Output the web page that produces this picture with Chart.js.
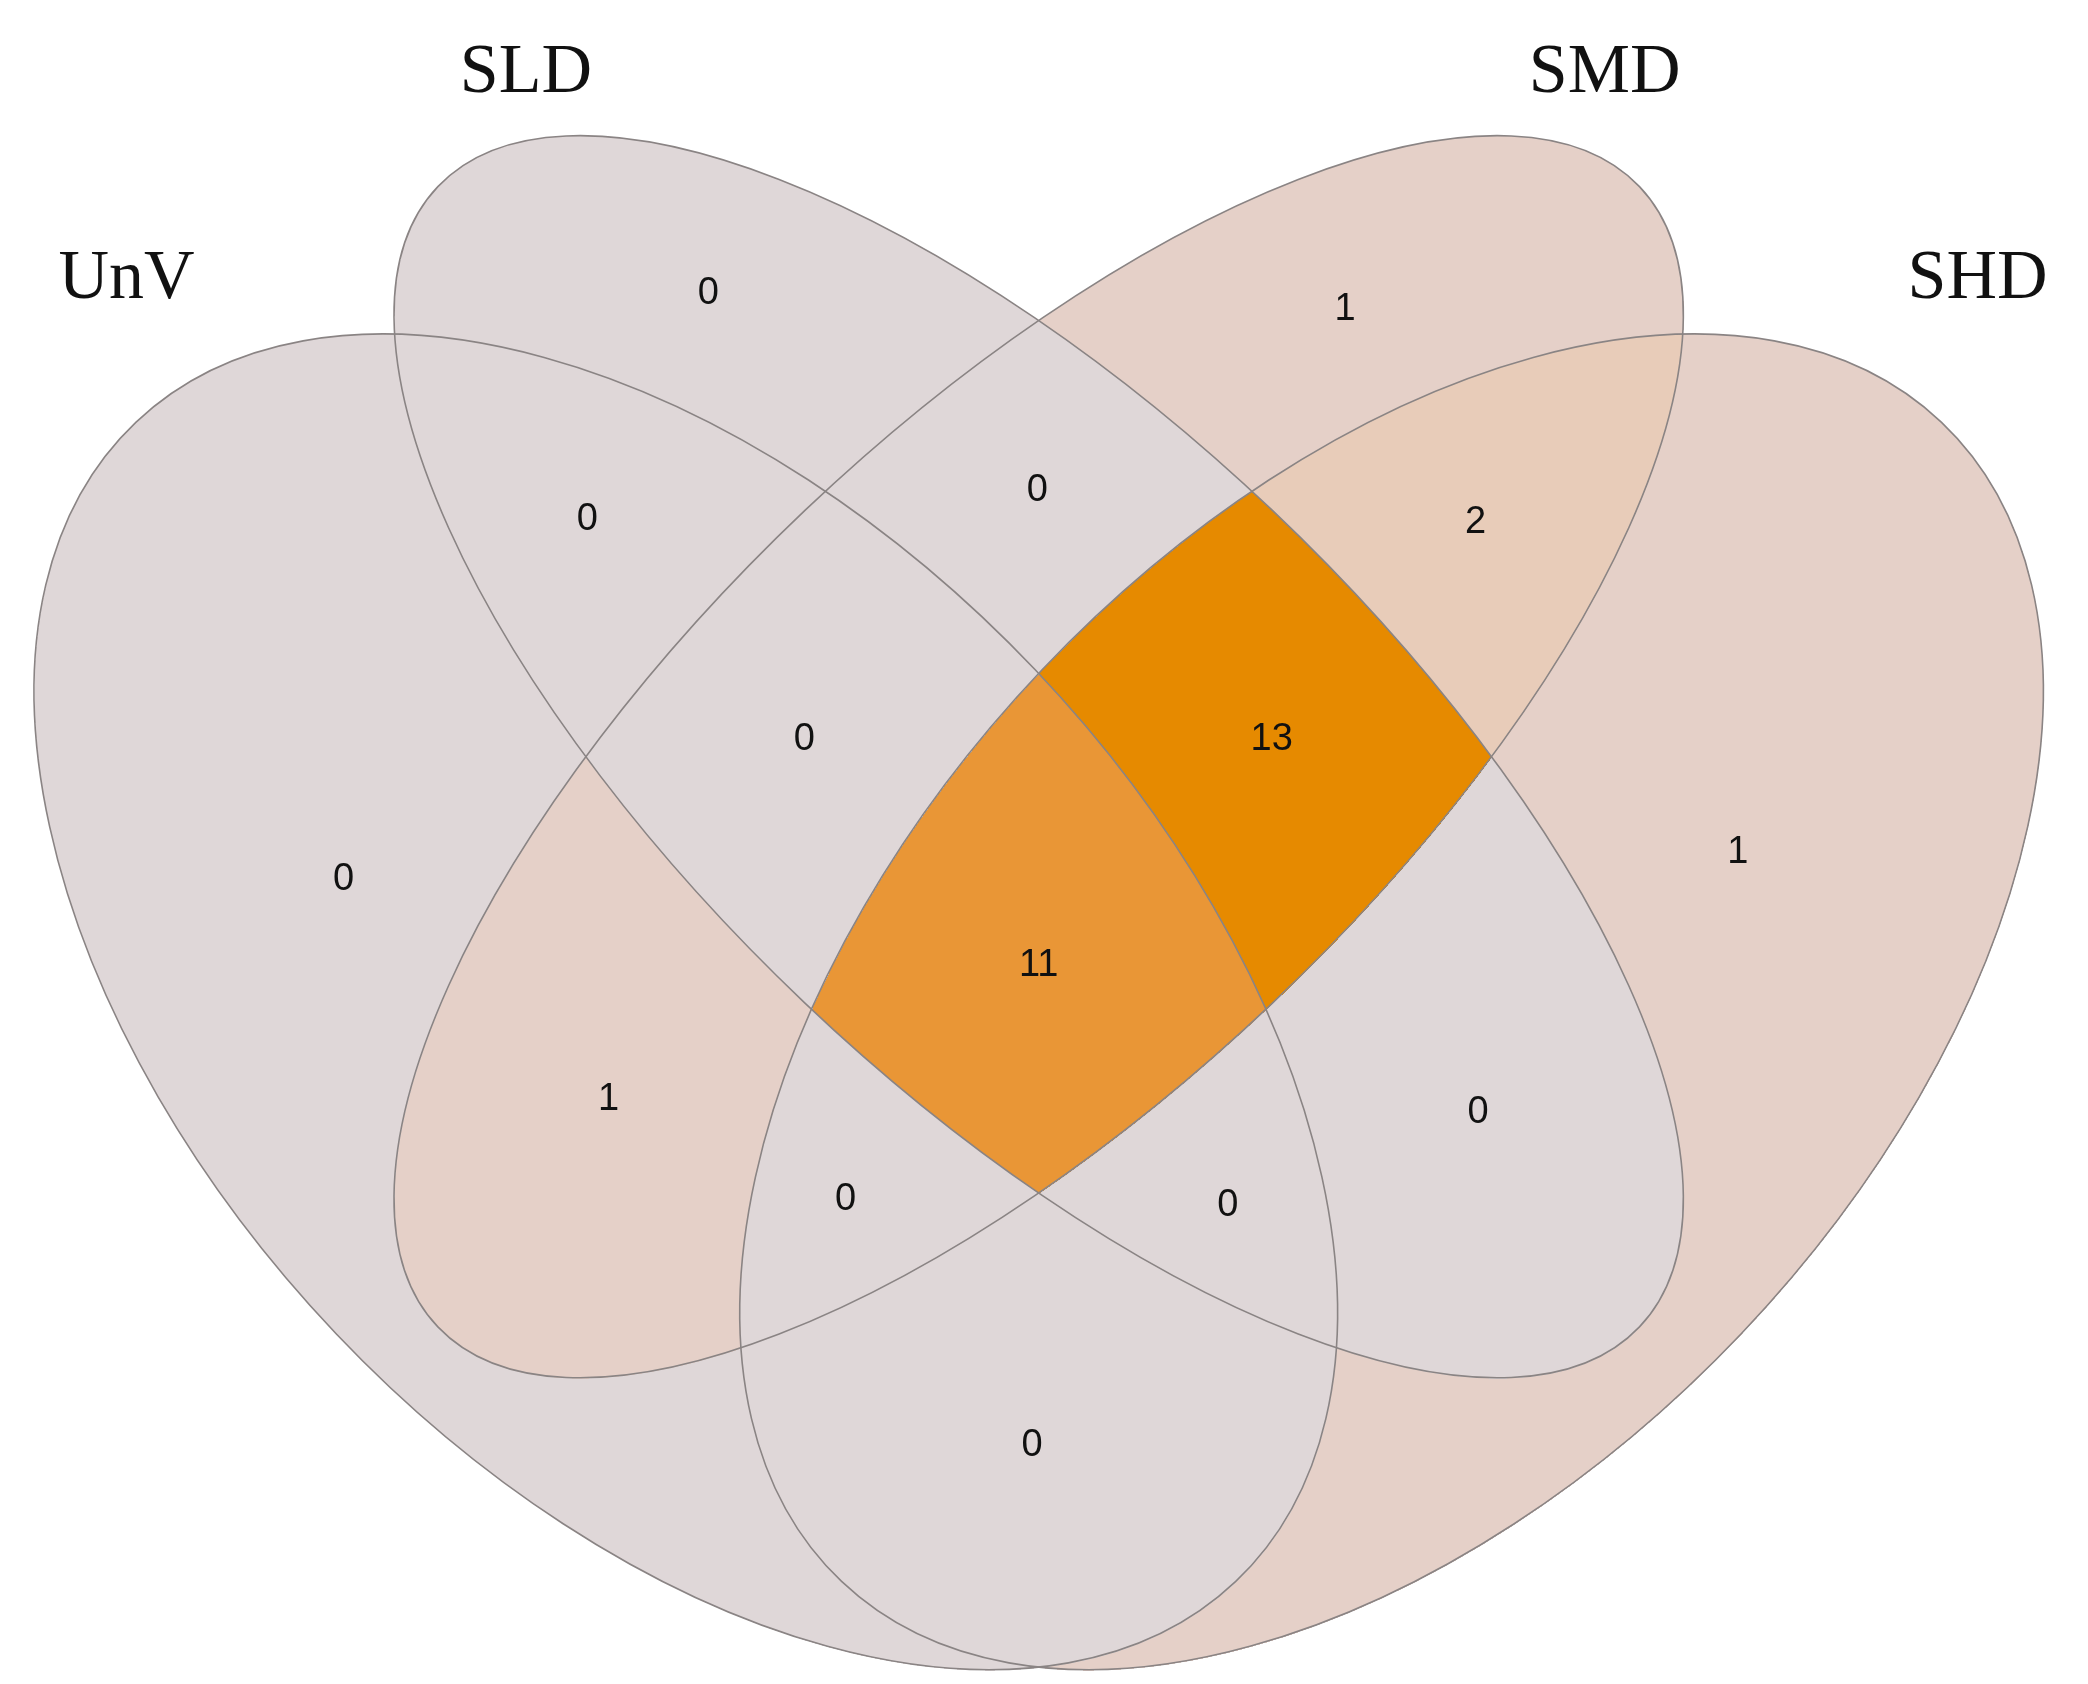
<!DOCTYPE html>
<html>
<head>
<meta charset="utf-8">
<script src="https://cdn.jsdelivr.net/npm/chart.js@4.4.1/dist/chart.umd.min.js"></script>
<style>
  html, body { margin: 0; padding: 0; background: #fff; }
  #wrap { width: 2088px; height: 1684px; }
</style>
</head>
<body>
<div id="wrap"><canvas id="venn"></canvas></div>
<script>
// sets: name, ellipse centre / semi axes / tilt (in reference-image units)
const setNames = ['UnV', 'SLD', 'SMD', 'SHD'];
const setBits = [1, 2, 4, 8];
const setCx = [515, 780, 780, 1045];
const setCy = [752, 568, 568, 752];
const setA = [600, 622, 622, 600];
const setB = [362, 255, 255, 362];
const setAngle = [46.5, 43.5, -43.5, -46.5];
const setLabelX = [95, 395, 1205, 1485];
const setLabelY = [210, 55, 55, 210];

// region counts (bitmask U=1 L=2 M=4 H=8), with label positions
const regionMask = [2, 4, 1, 8, 3, 6, 12, 7, 14, 15, 5, 10, 13, 11, 9];
const regionCount = [0, 1, 0, 1, 0, 0, 2, 0, 13, 11, 1, 0, 0, 0, 0];
const regionX = [532, 1010, 258, 1305, 441, 779, 1108, 604, 955, 780, 457, 1110, 635, 922, 775];
const regionY = [220, 232, 660, 640, 390, 368, 392, 555, 555, 725, 825, 835, 900, 905, 1085];

function countColor(n) {
  if (n >= 13) return [230, 138, 0];
  if (n >= 11) return [233, 150, 54];
  if (n >= 2) return [232, 204, 185];
  if (n >= 1) return [229, 208, 200];
  return [223, 215, 216];
}

const maskCount = {};
regionMask.forEach((m, i) => { maskCount[m] = regionCount[i]; });

function membership(x, y) {
  let m = 0;
  for (let i = 0; i < 4; i++) {
    const t = setAngle[i] * Math.PI / 180;
    const dx = x - setCx[i], dy = y - setCy[i];
    const u = dx * Math.cos(t) + dy * Math.sin(t);
    const v = -dx * Math.sin(t) + dy * Math.cos(t);
    if ((u / setA[i]) ** 2 + (v / setB[i]) ** 2 <= 1) m |= setBits[i];
  }
  return m;
}

const vennPlugin = {
  id: 'venn',
  beforeDatasetsDraw(chart) {
    const ctx = chart.ctx;
    const xs = chart.scales.x, ys = chart.scales.y;
    const dpr = chart.currentDevicePixelRatio || 1;
    const W = chart.canvas.width, H = chart.canvas.height;
    const img = ctx.createImageData(W, H);
    const colX = new Float64Array(W), rowY = new Float64Array(H);
    for (let i = 0; i < W; i++) colX[i] = xs.getValueForPixel(i / dpr);
    for (let j = 0; j < H; j++) rowY[j] = ys.getValueForPixel(j / dpr);
    for (let j = 0; j < H; j++) {
      for (let i = 0; i < W; i++) {
        const m = membership(colX[i], rowY[j]);
        const k = (j * W + i) * 4;
        let c = [255, 255, 255];
        if (m) c = countColor(maskCount[m] || 0);
        img.data[k] = c[0]; img.data[k + 1] = c[1]; img.data[k + 2] = c[2]; img.data[k + 3] = 255;
      }
    }
    ctx.putImageData(img, 0, 0);

    const k = xs.getPixelForValue(1) - xs.getPixelForValue(0);
    ctx.save();
    ctx.strokeStyle = '#8a8484';
    ctx.lineWidth = 1.6;
    for (let i = 0; i < 4; i++) {
      ctx.beginPath();
      ctx.ellipse(xs.getPixelForValue(setCx[i]), ys.getPixelForValue(setCy[i]),
        setA[i] * k, setB[i] * k, setAngle[i] * Math.PI / 180, 0, Math.PI * 2);
      ctx.stroke();
    }
    ctx.restore();
  },
  afterDatasetsDraw(chart) {
    const ctx = chart.ctx;
    const xs = chart.scales.x, ys = chart.scales.y;
    ctx.save();
    ctx.fillStyle = '#111';
    ctx.textAlign = 'center';
    ctx.textBaseline = 'middle';
    ctx.font = '38px "Liberation Sans", Arial, sans-serif';
    regionCount.forEach((n, i) => {
      ctx.fillText(String(n), xs.getPixelForValue(regionX[i]), ys.getPixelForValue(regionY[i]));
    });
    ctx.font = '70px "Liberation Serif", "Times New Roman", serif';
    setNames.forEach((s, i) => {
      ctx.fillText(s, xs.getPixelForValue(setLabelX[i]), ys.getPixelForValue(setLabelY[i]));
    });
    ctx.restore();
  }
};

new Chart(document.getElementById('venn'), {
  type: 'scatter',
  data: {
    datasets: [{
      data: regionX.map((x, i) => ({ x, y: regionY[i] })),
      pointRadius: 0
    }]
  },
  options: {
    responsive: true,
    maintainAspectRatio: false,
    animation: false,
    layout: { padding: 0 },
    plugins: { legend: { display: false }, tooltip: { enabled: false } },
    scales: {
      x: { type: 'linear', min: 0, max: 1568, display: false },
      y: { type: 'linear', min: 0, max: 1264, reverse: true, display: false }
    }
  },
  plugins: [vennPlugin]
});
</script>
</body>
</html>
